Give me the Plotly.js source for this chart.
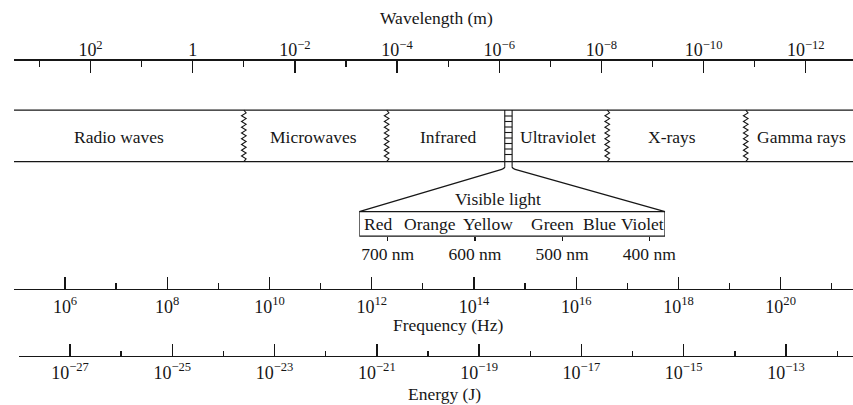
<!DOCTYPE html>
<html>
<head>
<meta charset="utf-8">
<script src="https://cdn.plot.ly/plotly-3.0.1.min.js"></script>
<style>html,body{margin:0;padding:0;background:#fff}</style>
</head>
<body>
<div id="chart" style="width:853px;height:405px"></div>
<script>
// ---- Scales -------------------------------------------------------------
const wavelengthMajor = [1e2, 1, 1e-2, 1e-4, 1e-6, 1e-8, 1e-10, 1e-12];
const wavelengthMajorText = ['10<sup>2</sup>', '1', '10<sup>−2</sup>', '10<sup>−4</sup>',
  '10<sup>−6</sup>', '10<sup>−8</sup>', '10<sup>−10</sup>', '10<sup>−12</sup>'];
const wavelengthMinor = [1e3, 1e1, 1e-1, 1e-3, 1e-5, 1e-7, 1e-9, 1e-11];

const frequencyMajor = [1e6, 1e8, 1e10, 1e12, 1e14, 1e16, 1e18, 1e20];
const frequencyMajorText = ['10<sup>6</sup>', '10<sup>8</sup>', '10<sup>10</sup>', '10<sup>12</sup>',
  '10<sup>14</sup>', '10<sup>16</sup>', '10<sup>18</sup>', '10<sup>20</sup>'];
const frequencyMinor = [1e5, 1e7, 1e9, 1e11, 1e13, 1e15, 1e17, 1e19, 1e21];

const energyMajor = [1e-27, 1e-25, 1e-23, 1e-21, 1e-19, 1e-17, 1e-15, 1e-13];
const energyMajorText = ['10<sup>−27</sup>', '10<sup>−25</sup>', '10<sup>−23</sup>', '10<sup>−21</sup>',
  '10<sup>−19</sup>', '10<sup>−17</sup>', '10<sup>−15</sup>', '10<sup>−13</sup>'];
const energyMinor = [1e-28, 1e-26, 1e-24, 1e-22, 1e-20, 1e-18, 1e-16, 1e-14, 1e-12];

// ---- Spectral bands (wavelength, m) ---------------------------------------
const bandNames = ['Radio waves', 'Microwaves', 'Infrared', 'Ultraviolet', 'X-rays', 'Gamma rays'];
const bandLabelAt = [28, 4.4e-3, 1e-5, 7.1e-8, 4.2e-10, 1.2e-12];
const bandBoundaries = [1e-1, 1.6e-4, 7.7e-9, 1.5e-11];
const visibleEdges = [7.8e-7, 5.6e-7];

// ---- Visible light detail (nm) -------------------------------------------
const colourNames = ['Red', 'Orange', 'Yellow', 'Green', 'Blue', 'Violet'];
const colourAt = [711, 651.5, 585, 511.5, 457.6, 408.3];
const nmTicks = [700, 600, 500, 400];
const nmTickText = nmTicks.map(v => v + ' nm');
const nmSpan = [732.6, 382];

// ---- Geometry -------------------------------------------------------------
const W = 853, H = 405;
const pos = px => 1 - px / H;          // paper fraction from a pixel row
const ink = '#161616';
const serif = 'Liberation Serif, Times New Roman, serif';
const textFont = {family: serif, size: 17.5, color: ink};
const tickFont = {family: serif, size: 18, color: ink};

const bandTop = 110, bandBottom = 161.7, funnelStart = 166.5;
const boxTop = 211.7, boxBottom = 236;

const lamDomain = [14 / W, 1], lamRange = [3.498, -12.924];
const nmDomain = [359.3 / W, 665 / W];

function lamPaper(lam) {
  const t = (Math.log10(lam) - lamRange[0]) / (lamRange[1] - lamRange[0]);
  return lamDomain[0] + t * (lamDomain[1] - lamDomain[0]);
}
function nmPaper(nm) {
  const t = (nm - nmSpan[0]) / (nmSpan[1] - nmSpan[0]);
  return nmDomain[0] + t * (nmDomain[1] - nmDomain[0]);
}
const pxPerDecade = (lamDomain[1] - lamDomain[0]) * W / Math.abs(lamRange[1] - lamRange[0]);

function scaleAxis(opts) {
  return Object.assign({
    type: 'log', anchor: 'free', showline: true, linecolor: ink, linewidth: 1.3,
    ticks: 'inside', ticklen: 12, tickwidth: 1.3, tickcolor: ink,
    showgrid: false, zeroline: false, tickmode: 'array', tickfont: tickFont,
    ticklabelposition: 'outside', fixedrange: true
  }, opts);
}
function minorTicks(vals, len) {
  return {tickmode: 'array', tickvals: vals, ticks: 'inside', ticklen: len,
          tickwidth: 1.3, tickcolor: ink, showgrid: false};
}

// ---- Traces ---------------------------------------------------------------
const traces = [];
const lineStyle = {color: ink, width: 1.25};

// zigzag dividers between bands
bandBoundaries.forEach(b => {
  const n = 18, amp = 2.3 / pxPerDecade, xs = [], ys = [];
  for (let i = 0; i <= n; i++) {
    const off = (i === 0 || i === n) ? 0 : (i % 2 ? -amp : amp);
    xs.push(Math.pow(10, Math.log10(b) + off));
    ys.push(bandTop + i * (bandBottom - bandTop) / n);
  }
  traces.push({type: 'scatter', mode: 'lines', x: xs, y: ys, xaxis: 'x', yaxis: 'y',
               line: {color: ink, width: 1.1}, hoverinfo: 'skip'});
});

// ladder marking the narrow visible window
(function () {
  const xs = [], ys = [];
  visibleEdges.forEach(e => { xs.push(e, e, null); ys.push(bandTop, funnelStart, null); });
  for (let y = 116; y < bandBottom - 3; y += 5.5) {
    xs.push(visibleEdges[0], visibleEdges[1], null); ys.push(y, y, null);
  }
  traces.push({type: 'scatter', mode: 'lines', x: xs, y: ys, xaxis: 'x', yaxis: 'y',
               line: {color: ink, width: 1.1}, hoverinfo: 'skip'});
})();

// anchor traces for the frequency, energy and nm scales
traces.push({type: 'scatter', mode: 'markers', x: frequencyMajor, y: frequencyMajor.map(() => 289),
             xaxis: 'x2', yaxis: 'y', marker: {opacity: 0}, hoverinfo: 'skip'});
traces.push({type: 'scatter', mode: 'markers', x: energyMajor, y: energyMajor.map(() => 356),
             xaxis: 'x3', yaxis: 'y', marker: {opacity: 0}, hoverinfo: 'skip'});
traces.push({type: 'scatter', mode: 'markers', x: nmTicks, y: nmTicks.map(() => boxBottom),
             xaxis: 'x4', yaxis: 'y', marker: {opacity: 0}, hoverinfo: 'skip'});

// ---- Shapes ---------------------------------------------------------------
const shapes = [
  {type: 'line', xref: 'x domain', yref: 'y', x0: 0, x1: 1, y0: bandTop, y1: bandTop, line: lineStyle},
  {type: 'line', xref: 'x domain', yref: 'y', x0: 0, x1: 1, y0: bandBottom, y1: bandBottom, line: lineStyle},
  {type: 'rect', xref: 'x4', yref: 'y', x0: nmSpan[0], x1: nmSpan[1], y0: boxTop, y1: boxBottom,
   line: lineStyle, fillcolor: 'rgba(0,0,0,0)'}
];
(function () {
  const l = lamPaper(visibleEdges[0]), r = lamPaper(visibleEdges[1]);
  const bl = nmPaper(nmSpan[0]), br = nmPaper(nmSpan[1]);
  const c = 3 / W;
  shapes.push({type: 'path', xref: 'paper', yref: 'y', line: lineStyle,
    path: `M ${l} ${funnelStart} Q ${l} ${funnelStart + 2} ${l - c} ${funnelStart + 2.8} L ${bl} ${boxTop}`});
  shapes.push({type: 'path', xref: 'paper', yref: 'y', line: lineStyle,
    path: `M ${r} ${funnelStart} Q ${r} ${funnelStart + 2} ${r + c} ${funnelStart + 2.8} L ${br} ${boxTop}`});
})();

// ---- Annotations ----------------------------------------------------------
const annotations = [];
bandNames.forEach((name, i) => annotations.push({
  xref: 'x', yref: 'y', x: Math.log10(bandLabelAt[i]), y: 137, text: name,
  showarrow: false, font: textFont, xanchor: 'center', yanchor: 'middle'}));
colourNames.forEach((name, i) => annotations.push({
  xref: 'x4', yref: 'y', x: colourAt[i], y: 223.5, text: name,
  showarrow: false, font: textFont, xanchor: 'center', yanchor: 'middle'}));
annotations.push({xref: 'x4', yref: 'y', x: 574, y: 199, text: 'Visible light',
  showarrow: false, font: textFont, xanchor: 'center', yanchor: 'middle'});
annotations.push({xref: 'paper', yref: 'y', x: 436 / W, y: 18, text: 'Wavelength (m)',
  showarrow: false, font: textFont, xanchor: 'center', yanchor: 'middle'});
annotations.push({xref: 'paper', yref: 'y', x: 448 / W, y: 325, text: 'Frequency (Hz)',
  showarrow: false, font: textFont, xanchor: 'center', yanchor: 'middle'});
annotations.push({xref: 'paper', yref: 'y', x: 444 / W, y: 394, text: 'Energy (J)',
  showarrow: false, font: textFont, xanchor: 'center', yanchor: 'middle'});

// ---- Layout ---------------------------------------------------------------
const layout = {
  width: W, height: H, margin: {l: 0, r: 0, t: 0, b: 0},
  paper_bgcolor: '#fff', plot_bgcolor: 'rgba(0,0,0,0)',
  showlegend: false, hovermode: false, dragmode: false,
  font: textFont,
  xaxis: scaleAxis({domain: lamDomain, range: lamRange, position: pos(59.3), side: 'top',
    tickvals: wavelengthMajor, ticktext: wavelengthMajorText, minor: minorTicks(wavelengthMinor, 6),
    ticklabelstandoff: -4}),
  xaxis2: scaleAxis({domain: [14 / W, 1], range: [5.002, 21.415], position: pos(289), side: 'bottom',
    tickvals: frequencyMajor, ticktext: frequencyMajorText, minor: minorTicks(frequencyMinor, 6),
    ticklabelstandoff: 1}),
  xaxis3: scaleAxis({domain: [19 / W, 1], range: [-27.997, -11.69], position: pos(355.7), side: 'bottom',
    tickvals: energyMajor, ticktext: energyMajorText, minor: minorTicks(energyMinor, 5)}),
  xaxis4: {type: 'linear', anchor: 'free', position: pos(boxBottom), domain: nmDomain, range: nmSpan,
    showline: false, showgrid: false, zeroline: false, ticks: 'outside', ticklen: 4, tickwidth: 1.2,
    tickcolor: ink, tickmode: 'array', tickvals: nmTicks, ticktext: nmTickText, tickfont: textFont,
    fixedrange: true, ticklabelstandoff: -2},
  yaxis: {domain: [0, 1], range: [H, 0], visible: false, fixedrange: true, anchor: 'x'},
  shapes: shapes,
  annotations: annotations
};

Plotly.newPlot('chart', traces, layout, {staticPlot: true, displayModeBar: false});
</script>
</body>
</html>
